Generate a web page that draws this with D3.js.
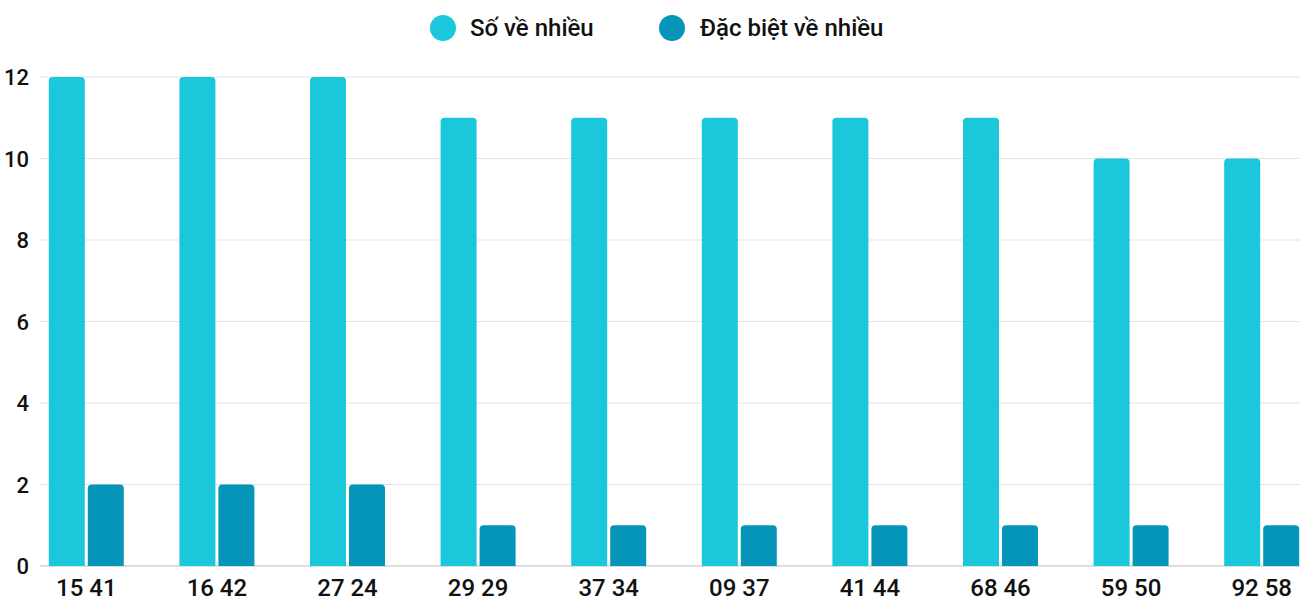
<!DOCTYPE html>
<html><head><meta charset="utf-8">
<script src="https://cdn.jsdelivr.net/npm/d3@7"></script>
<style>body{margin:0;background:#fff}svg{font-family:Roboto,sans-serif}</style>
</head><body>
<script>
var categories = ['15 41','16 42','27 24','29 29','37 34','09 37','41 44','68 46','59 50','92 58'];
var soVeNhieu = [12,12,12,11,11,11,11,11,10,10];
var dacBiet = [2,2,2,1,1,1,1,1,1,1];
var seriesNames = ['Số về nhiều','Đặc biệt về nhiều'];
var colors = ['#1bc8db','#0595b9'];
var yTicks = [0,2,4,6,8,10,12];

var svg = d3.select('body').append('svg').attr('width',1300).attr('height',600);

var x = d3.scaleBand().domain(categories).range([21,1327]);
var y = d3.scaleLinear().domain([0,12]).range([566,77]);

svg.selectAll('line.grid').data(yTicks).enter().append('line')
  .attr('x1',40).attr('x2',1300)
  .attr('y1',function(d){return y(d);}).attr('y2',function(d){return y(d);})
  .attr('stroke',function(d){return d===0?'#bbb':'#e3e3e3';}).attr('stroke-width',1);

svg.selectAll('text.yt').data(yTicks).enter().append('text')
  .attr('x',29).attr('y',function(d){return y(d)+8;})
  .attr('text-anchor','end').attr('font-size',22).attr('font-weight',500).attr('fill','#111').text(function(d){return d;});

function barPath(x0,w,top,bottom){
  var r=4;
  return 'M'+x0+','+bottom+'V'+(top+r)+'Q'+x0+','+top+' '+(x0+r)+','+top+
    'H'+(x0+w-r)+'Q'+(x0+w)+','+top+' '+(x0+w)+','+(top+r)+'V'+bottom+'Z';
}
var bw=36, gap=3;
[soVeNhieu,dacBiet].forEach(function(vals,si){
  svg.selectAll('path.s'+si).data(vals).enter().append('path')
    .attr('fill',colors[si])
    .attr('d',function(d,i){
      var c=x(categories[i])+x.bandwidth()/2;
      var x0 = si===0 ? c-bw-gap/2 : c+gap/2;
      return barPath(x0,bw,y(d),y(0));
    });
});

svg.selectAll('text.xt').data(categories).enter().append('text')
  .attr('x',function(d){return x(d)+x.bandwidth()/2;}).attr('y',596)
  .attr('text-anchor','middle').attr('font-size',24).attr('font-weight',500).attr('fill','#111').text(function(d){return d;});

var lg = [[443,470],[672,700]];
seriesNames.forEach(function(n,i){
  svg.append('circle').attr('cx',lg[i][0]).attr('cy',28).attr('r',13).attr('fill',colors[i]);
  svg.append('text').attr('x',lg[i][1]).attr('y',36).attr('font-size',24).attr('font-weight',500).attr('fill','#111').text(n);
});
</script>
</body></html>
